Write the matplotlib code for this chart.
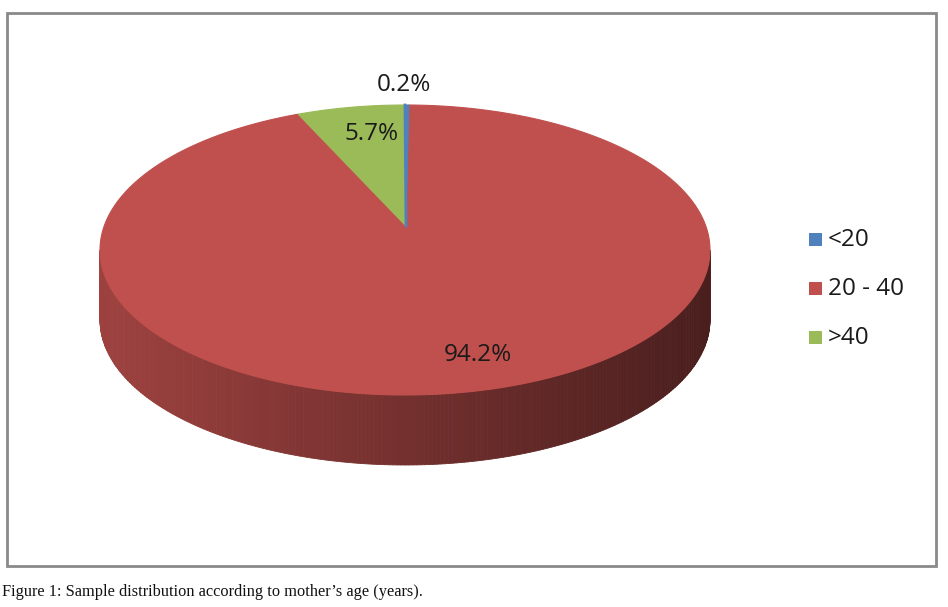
import numpy as np
import matplotlib
matplotlib.use("Agg")
from matplotlib import pyplot as plt
from matplotlib.patches import Polygon, Rectangle

# data
labels = ["<20", "20 - 40", ">40"]
shares = [0.2, 94.2, 5.7]
colors = ["#4F81BD", "#C0504D", "#9BBB59"]
caption = "Figure 1: Sample distribution according to mother\u2019s age (years)."

# pie geometry in pixel units (y grows downward)
cx, cy = 405, 250
rx, ry = 305, 145
depth = 70


def shade(hexcol, f):
    c = np.array(matplotlib.colors.to_rgb(hexcol))
    return tuple(np.clip(c * f, 0, 1))


def pt(theta, dy=0.0):
    return cx + rx * np.cos(theta), cy - ry * np.sin(theta) + dy


fig = plt.figure(figsize=(9.48, 6.07), dpi=100)
ax = fig.add_axes([0, 0, 1, 1])
ax.set_xlim(0, 948)
ax.set_ylim(607, 0)
ax.axis("off")

# chart frame
ax.add_patch(Rectangle((7, 13), 929, 553, fill=False, edgecolor="#8a8a8a", lw=2))

# slice angles, clockwise from the top
fracs = np.array(shares) / sum(shares)
edges = np.pi / 2 - 2 * np.pi * np.concatenate([[0], np.cumsum(fracs)])

# side wall (front half only), shaded left to right
n = 240
ts = np.linspace(np.pi, 2 * np.pi, n + 1)
for t1, t2 in zip(ts[:-1], ts[1:]):
    tm = 0.5 * (t1 + t2)
    # which slice owns this angle
    a = (np.pi / 2 - tm) % (2 * np.pi)
    k = int(np.searchsorted(np.cumsum(fracs) * 2 * np.pi, a))
    k = min(k, len(colors) - 1)
    x0, _ = pt(t1)
    f = 0.82 - 0.44 * (x0 - (cx - rx)) / (2 * rx)
    seg = np.linspace(t1, t2, 4)
    top = [pt(t) for t in seg]
    bot = [pt(t, depth) for t in seg[::-1]]
    ax.add_patch(Polygon(top + bot, closed=True, facecolor=shade(colors[k], f),
                         edgecolor=shade(colors[k], f), lw=0.6))

# top face
apex = (cx + 1, cy - 24)
for i in range(len(shares)):
    seg = np.linspace(edges[i], edges[i + 1], max(int(abs(edges[i] - edges[i + 1]) * 60), 3))
    verts = [apex] + [pt(t) for t in seg]
    ax.add_patch(Polygon(verts, closed=True, facecolor=colors[i],
                         edgecolor=colors[i], lw=0.8, zorder=3 + (i == 0)))
# the tiny <20 slice shows as a thin line
ax.plot([apex[0], pt(edges[0])[0]], [apex[1], pt(edges[0])[1]], color=colors[0], lw=2, zorder=5)

# data labels
lab_font = dict(family=["Open Sans", "DejaVu Sans"], fontsize=17.5, color="#1a1a1a", zorder=6)
ax.text(404, 85, "%.1f%%" % shares[0], ha="center", va="center", **lab_font)
ax.text(372, 134, "%.1f%%" % shares[2], ha="center", va="center", **lab_font)
ax.text(478, 355, "%.1f%%" % shares[1], ha="center", va="center", **lab_font)

# legend
for i, (lab, col) in enumerate(zip(labels, colors)):
    y = 240 + 49 * i
    ax.add_patch(Rectangle((809, y - 7), 13, 13, facecolor=col, edgecolor="none"))
    ax.text(828, y, lab, ha="left", va="center", **lab_font)

# caption
ax.text(2, 592, caption, ha="left", va="center", fontsize=11.8,
        family=["Liberation Serif", "DejaVu Serif"], color="#111111")

fig.savefig("out.png", dpi=100)
